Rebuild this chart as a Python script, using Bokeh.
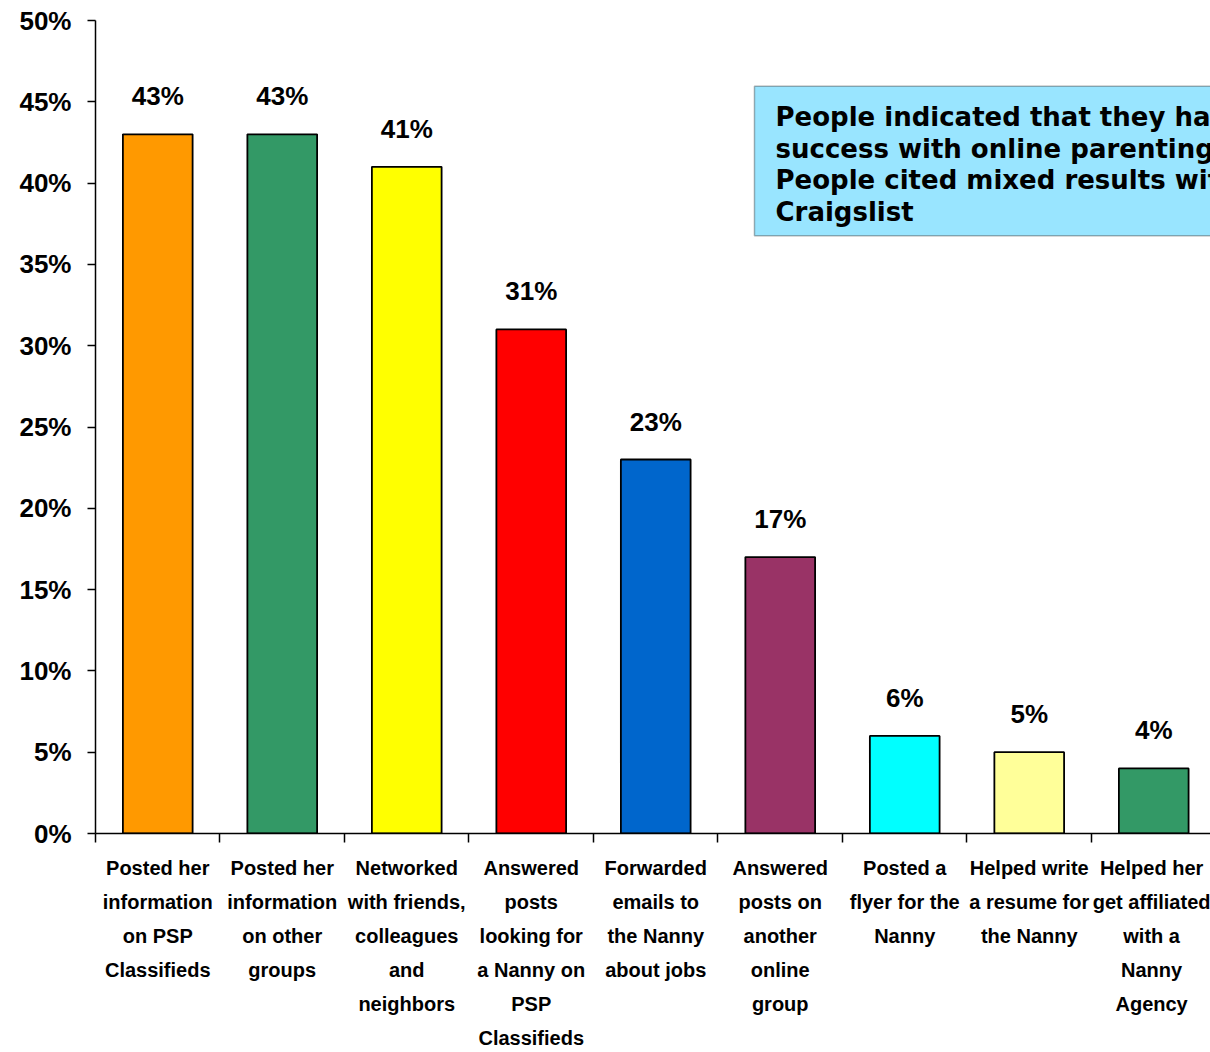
from bokeh.plotting import figure
from bokeh.models import Range1d, FixedTicker, BoxAnnotation, Label, ColumnDataSource
from bokeh.core.properties import value
from bokeh.embed import file_html
from bokeh.resources import INLINE

categories = [
    "Posted her\ninformation\non PSP\nClassifieds",
    "Posted her\ninformation\non other\ngroups",
    "Networked\nwith friends,\ncolleagues\nand\nneighbors",
    "Answered\nposts\nlooking for\na Nanny on\nPSP\nClassifieds",
    "Forwarded\nemails to\nthe Nanny\nabout jobs",
    "Answered\nposts on\nanother\nonline\ngroup",
    "Posted a\nflyer for the\nNanny",
    "Helped write\na resume for\nthe Nanny",
    "Helped her\nget affiliated\nwith a\nNanny\nAgency",
]
values = [43, 43, 41, 31, 23, 17, 6, 5, 4]
colors = ["#FF9900", "#339966", "#FFFF00", "#FF0000", "#0066CC",
          "#993366", "#00FFFF", "#FFFF99", "#339966"]
y_ticks = [0, 5, 10, 15, 20, 25, 30, 35, 40, 45, 50]
y_tick_labels = [f"{t}%" for t in y_ticks]
note_text = ("People indicated that they had more\n"
             "success with online parenting groups.\n"
             "People cited mixed results with\n"
             "Craigslist")

FONT = "Liberation Sans"

centers = [i + 0.5 for i in range(len(values))]
src = ColumnDataSource(dict(x=centers, top=values, color=colors,
                            label=[f"{v}%" for v in values]))

p = figure(width=1210, height=1052, output_backend="svg", toolbar_location=None,
           x_range=Range1d(0, 8.956), y_range=Range1d(0, 50),
           min_border_left=95, min_border_top=20, min_border_right=0,
           min_border_bottom=216)
p.outline_line_color = None
p.grid.grid_line_color = None
p.background_fill_color = "white"

p.vbar(x="x", top="top", width=0.56, fill_color="color", line_color="black",
       line_width=1.8, source=src)
p.text(x="x", y="top", text="label", source=src, text_align="center",
       text_baseline="alphabetic", y_offset=-38, text_font=value(FONT),
       text_font_style="bold", text_font_size="26px", text_color="black")

# y axis
ya = p.yaxis[0]
ya.ticker = FixedTicker(ticks=y_ticks, minor_ticks=[])
ya.major_label_overrides = {t: l for t, l in zip(y_ticks, y_tick_labels)}
ya.major_label_text_font = FONT
ya.major_label_text_font_style = "bold"
ya.major_label_text_font_size = "26px"
ya.major_label_text_color = "black"
ya.major_tick_out = 8
ya.major_tick_in = 0
ya.major_label_standoff = 16
ya.axis_line_color = "black"
ya.axis_line_width = 1.5
ya.major_tick_line_width = 1.5

# x axis
xa = p.xaxis[0]
xa.ticker = FixedTicker(ticks=centers, minor_ticks=list(range(len(values) + 1)))
xa.major_label_overrides = {c: l for c, l in zip(centers, categories)}
xa.major_label_text_font = FONT
xa.major_label_text_font_style = "bold"
xa.major_label_text_font_size = "20px"
xa.major_label_text_line_height = 1.55
xa.major_label_text_color = "black"
xa.major_tick_line_color = None
xa.major_tick_out = 0
xa.major_tick_in = 0
xa.minor_tick_out = 9
xa.minor_tick_in = 0
xa.minor_tick_line_color = "black"
xa.minor_tick_line_width = 1.5
xa.axis_line_color = "black"
xa.axis_line_width = 1.5
xa.major_label_standoff = 14

# note box
box = BoxAnnotation(left=5.293, right=9.5, top=45.96, bottom=36.76,
                    fill_color="#99E5FF", fill_alpha=1.0,
                    line_color="black", line_width=1.5)
p.add_layout(box)
note = Label(x=5.462, y=45.0, text=note_text, text_font="DejaVu Sans",
             text_font_style="bold", text_font_size="26px",
             text_baseline="top", text_line_height=1.06, text_color="black")
p.add_layout(note)

open("out.html", "w").write(file_html(p, INLINE))
